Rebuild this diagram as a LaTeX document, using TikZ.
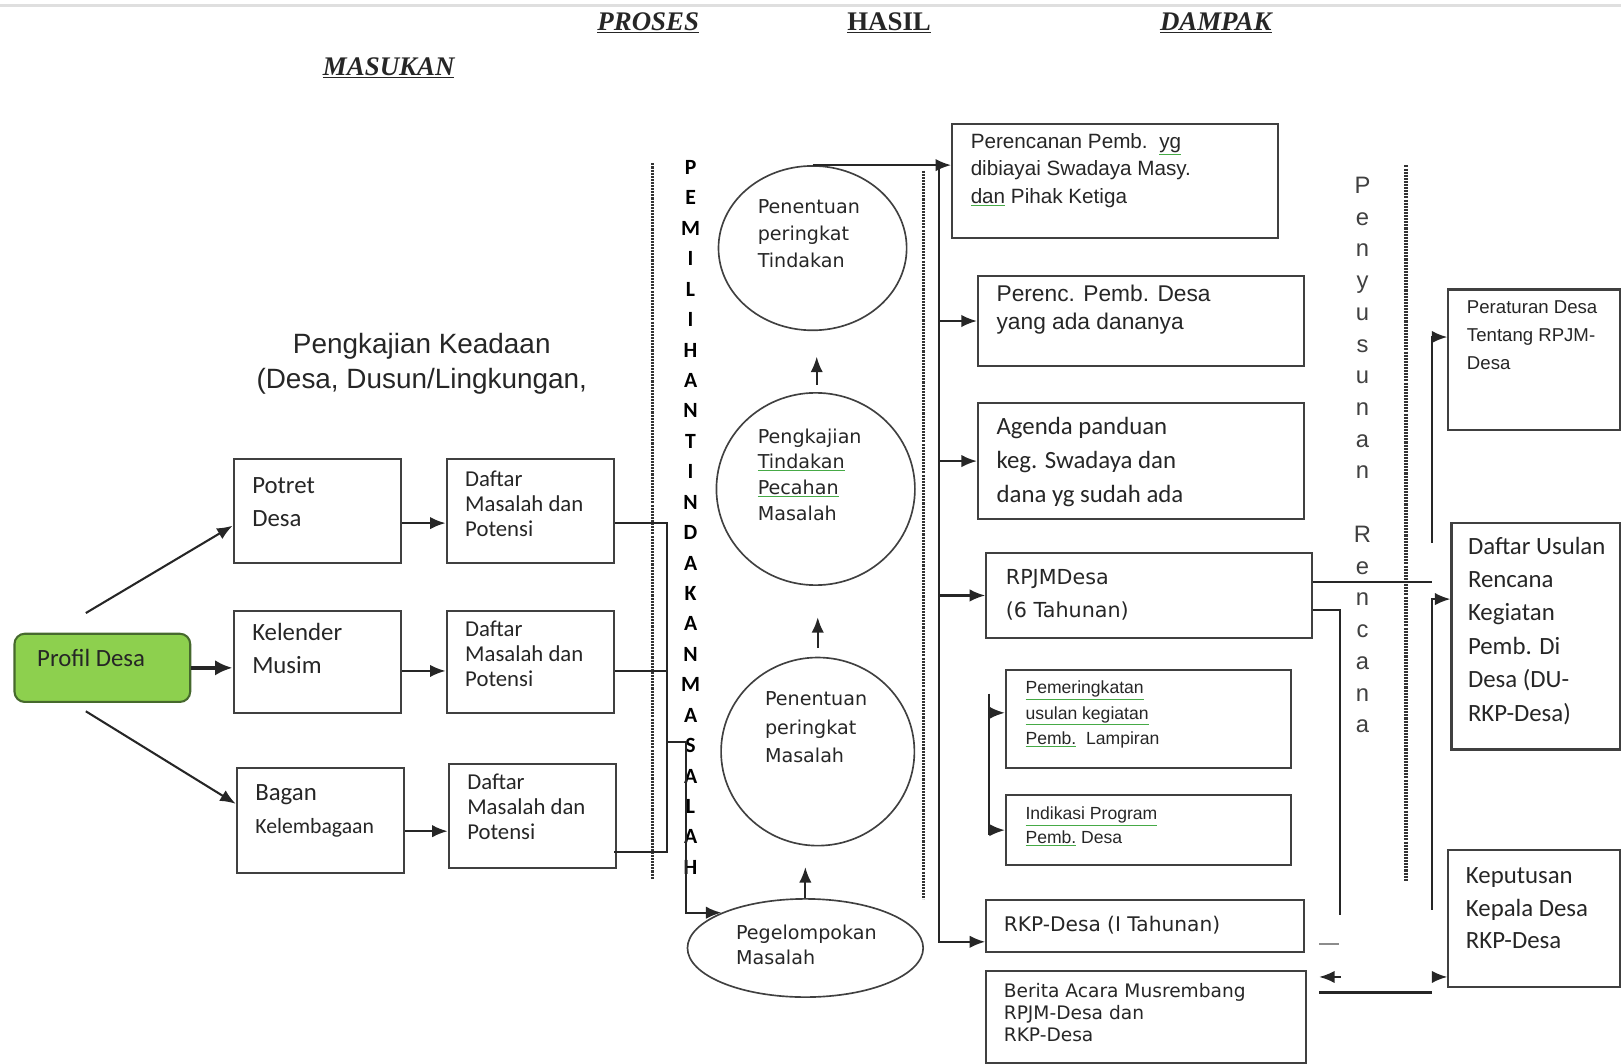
\documentclass[tikz,border=0pt]{standalone}
\usepackage{fontspec}
\setmainfont{Liberation Sans}
\newfontfamily\fCal{Carlito}
\newfontfamily\fDV{DejaVu Sans}
\newfontfamily\fTm{Liberation Serif}
\usetikzlibrary{arrows.meta,calc,shapes.geometric}
\definecolor{txt}{gray}{0.15}
\definecolor{bc}{gray}{0.25}
\definecolor{lc}{gray}{0.15}
\definecolor{sqc}{RGB}{70,170,70}
\definecolor{pfill}{RGB}{141,208,78}
\definecolor{pdraw}{RGB}{70,105,45}
\newcommand{\fs}[2]{\fontsize{#1pt}{#2pt}\selectfont}
\newcommand{\bx}[4]{\parbox[t][#2pt][t]{#1pt}{\vspace*{#3pt}\noindent\begin{tabular}[t]{@{}l@{}}#4\end{tabular}}}
\newcommand{\et}[3]{\raisebox{#2pt}[0pt][0pt]{\parbox{#1pt}{\raggedright #3}}}
\newcommand{\sq}[1]{{\color{sqc}\underline{\color{txt}#1}}}
\tikzset{
  box/.style={draw=bc, line width=2pt, anchor=north west, inner ysep=0pt, text=txt},
  ell/.style={ellipse, draw=bc, line width=1.6pt, inner sep=0pt, text=txt},
  conn/.style={draw=lc, line width=2pt},
  arr/.style={-{Latex[length=15pt,width=12pt]}},
  dotl/.style={draw=black!80, line width=3pt, dash pattern=on 2pt off 1pt},
  hdr/.style={font=\fTm\bfseries\fs{26}{30}, text=txt, inner sep=0pt},
}
\begin{document}
\begin{tikzpicture}[x=1pt,y=-1pt]
\useasboundingbox (0,0) rectangle (1568,1029);
\draw[gray!25, line width=3pt] (0,5) -- (1568,5);

% headers
\node[hdr] (hproses) at (627,22) {\underline{\itshape PROSES}};
\node[hdr] (hhasil) at (860,22) {\underline{HASIL}};
\node[hdr] (hdampak) at (1176,22) {\underline{\itshape DAMPAK}};
\node[hdr] (hmasukan) at (376,66) {\underline{\itshape MASUKAN}};

\node[font=\fs{27}{34}, text=txt, align=center] (pk) at (408,352) {Pengkajian Keadaan\\(Desa, Dusun/Lingkungan,};

% left column
\node[box, rounded corners=10pt, fill=pfill, draw=pdraw, inner xsep=22pt, font=\fCal\fs{24}{30}] (profil) at (13,612) {\bx{126}{66}{10.9}{Profil Desa}};
\node[box, inner xsep=18pt, font=\fCal\fs{24}{32}] (potret) at (225,443) {\bx{126}{101}{10.5}{Potret\\Desa}};
\node[box, inner xsep=18pt, font=\fCal\fs{24}{32}] (kelender) at (225,590) {\bx{126}{99}{6.5}{Kelender\\Musim}};
\node[box, inner xsep=18pt, font=\fCal\fs{24}{32}] (bagan) at (228,742) {\bx{126}{101}{8.5}{Bagan\\{\fs{21}{32}Kelembagaan}}};
\node[box, inner xsep=18pt, font=\fCal\fs{22}{24.5}] (daftar1) at (431,443) {\bx{126}{101}{9.1}{Daftar\\Masalah dan\\Potensi}};
\node[box, inner xsep=18pt, font=\fCal\fs{22}{24.5}] (daftar2) at (431,590) {\bx{126}{99}{7.2}{Daftar\\Masalah dan\\Potensi}};
\node[box, inner xsep=18pt, font=\fCal\fs{22}{24.5}] (daftar3) at (433,738) {\bx{126}{101}{7.2}{Daftar\\Masalah dan\\Potensi}};

% dotted separators
\draw[dotl] (631,158) -- (631,850);
\draw[dotl] (893,165) -- (893,870);
\draw[dotl] (1360,160) -- (1360,852);

% vertical labels
\node[font=\fCal\bfseries\fs{21}{29.43}, align=center, anchor=north, inner sep=0pt, text=black] (pemilihan) at (668,155)
 {P\\E\\M\\I\\L\\I\\H\\A\\N\\T\\I\\N\\D\\A\\K\\A\\N\\M\\A\\S\\A\\L\\A\\H};
\node[font=\fs{23}{30.7}, align=center, anchor=north, inner sep=0pt, text=black!75] (penyusunan) at (1318,171)
 {P\\e\\n\\y\\u\\s\\u\\n\\a\\n\\[30.7pt]R\\e\\n\\c\\a\\n\\a};

% ellipses
\node[ell, minimum width=182pt, minimum height=159pt, font=\fDV\fs{18.5}{26}] (e1) at (786,240) {\et{106}{9.5}{Penentuan\\peringkat\\Tindakan}};
\node[ell, minimum width=192pt, minimum height=186pt, font=\fDV\fs{18.5}{25}] (e2) at (789,473) {\et{112}{9.5}{Pengkajian\\\sq{Tindakan}\\\sq{Pecahan}\\Masalah}};
\node[ell, minimum width=187pt, minimum height=182pt, font=\fDV\fs{18.5}{27.5}] (e3) at (791,727) {\et{102}{19}{Penentuan\\peringkat\\Masalah}};
\node[ell, minimum width=228pt, minimum height=95pt, font=\fDV\fs{18.5}{24}] (e4) at (779,917) {\et{134}{-1.5}{Pegelompokan\\Masalah}};

% middle-right boxes
\node[box, inner xsep=18pt, font=\fs{20}{27}] (b1) at (920,119) {\bx{279}{110}{4.3}{Perencanan Pemb.\ \ \sq{yg}\\dibiayai Swadaya Masy.\\\sq{dan} Pihak Ketiga}};
\node[box, inner xsep=18pt, font=\fs{22}{27}] (b2) at (945,266) {\bx{279}{87}{6}{Perenc. Pemb. Desa\\yang ada dananya}};
\node[box, inner xsep=18pt, font=\fCal\fs{24}{33}] (b3) at (945,389) {\bx{279}{112}{6.8}{Agenda panduan\\keg. Swadaya dan\\dana yg sudah ada}};
\node[box, inner xsep=19pt, font=\fDV\fs{20}{32}] (b4) at (953,534) {\bx{277}{82}{7.9}{RPJMDesa\\(6 Tahunan)}};
\node[box, inner xsep=19pt, font=\fs{17}{24.5}] (b5) at (972,647) {\bx{238}{95}{6}{\sq{Pemeringkatan}\\\sq{usulan kegiatan}\\\sq{Pemb.}\ \ Lampiran}};
\node[box, inner xsep=19pt, font=\fs{17}{23}] (b6) at (972,768) {\bx{238}{68}{8}{\sq{Indikasi Program}\\\sq{Pemb.} Desa}};
\node[box, inner xsep=17pt, font=\fDV\fs{19.5}{24}] (b7) at (953,870) {\bx{273}{50}{13.2}{RKP-Desa (I Tahunan)}};
\node[box, inner xsep=17pt, font=\fDV\fs{18}{21.5}] (b8) at (953,938) {\bx{275}{89}{10.5}{Berita Acara Musrembang\\RPJM-Desa dan\\RKP-Desa}};

% right boxes
\node[box, inner xsep=18pt, font=\fs{18}{27}] (r1) at (1400,279) {\bx{130}{136}{4.6}{Peraturan Desa\\Tentang RPJM-\\Desa}};
\node[box, inner xsep=16pt, font=\fCal\fs{24}{32.4}] (r2) at (1403,505) {\bx{131}{219}{7.2}{Daftar Usulan\\Rencana\\Kegiatan\\Pemb. Di\\Desa (DU-\\RKP-Desa)}};
\node[box, inner xsep=17pt, font=\fCal\fs{24}{31.5}] (r3) at (1400,821) {\bx{132}{133}{10.9}{Keputusan\\Kepala Desa\\RKP-Desa}};

% --- connectors: left
\coordinate (pa) at (83,593);
\coordinate (pb) at (83,688);
\draw[conn, arr] (pa) -- ($(potret.west)+(0,14)$);
\draw[conn, arr] (pb) -- ($(bagan.west)+(0,-16)$);
\draw[draw=lc, line width=4.5pt, -{Latex[length=17pt,width=15pt]}] (profil.east) -- (kelender.west |- profil.east);
\draw[conn, arr] ($(potret.east)+(0,11.5)$) -- ($(daftar1.west)+(0,11.5)$);
\draw[conn, arr] ($(kelender.east)+(0,8.5)$) -- ($(daftar2.west)+(0,8.5)$);
\draw[conn, arr] ($(bagan.east)+(0,10.5)$) -- ($(daftar3.west)+(0,14.5)$);

\coordinate (lbx) at (645,0);
\coordinate (g1) at ($(daftar1.east)+(0,11.5)$);
\coordinate (g2) at ($(daftar2.east)+(0,8.5)$);
\coordinate (g3) at ($(daftar3.east)+(-3,34.5)$);
\draw[conn] (g1) -- (g1 -| lbx) -- (g3 -| lbx) -- (g3);
\draw[conn] (g2) -- (g2 -| lbx);
\coordinate (lb) at (645,718);
\coordinate (lx) at (664,718);
\draw[conn, arr] (lb) -- (lx) -- (lx |- e4.north west) -- (e4.north west);

% --- ellipse arrows
\coordinate (u1a) at (790,372);
\coordinate (u1b) at (790,345);
\coordinate (u2a) at (791,627);
\coordinate (u2b) at (791,597);
\draw[conn, arr] (u1a) -- (u1b);
\draw[conn, arr] (u2a) -- (u2b);
\draw[conn, arr] (e4.north) -- ++(0,-30);

% --- result bus
\coordinate (busx) at (908,0);
\draw[conn, arr] (e1.north) -- (b1.west |- e1.north);
\draw[conn, arr] (busx |- e1.north) |- ($(b7.west)+(0,15)$);
\draw[conn, arr] (busx |- b2.west) -- (b2.west);
\draw[conn, arr] (busx |- b3.west) -- (b3.west);
\draw[conn, arr] (busx |- b4.west) -- (b4.west);

% small bracket to b5/b6
\coordinate (brt) at (957,671);
\coordinate (brb) at (957,808);
\coordinate (p5) at ($(b5.west)+(0,-6)$);
\draw[conn] (brt) -- (brb);
\draw[conn, arr] (brt |- p5) -- (p5);
\draw[conn, arr] (brt |- b6.west) -- (b6.west);

% --- right side
\coordinate (q1) at (1385,563);
\draw[conn] (q1 -| b4.east) -- (q1);
\coordinate (q2t) at (1296,590);
\coordinate (q2) at (1296,885);
\draw[conn] (q2t -| b4.east) -- (q2t) -- (q2);
\coordinate (d1) at (1276,913);
\coordinate (d2) at (1295,913);
\draw[draw=black!45, line width=2pt] (d1) -- (d2);
\coordinate (la) at (1297,945);
\coordinate (lbb) at (1276,945);
\draw[conn, arr] (la) -- (lbb);
\coordinate (m1) at (1276,960);
\coordinate (m2) at (1385,960);
\draw[conn] (m1) -- (m2);
\coordinate (v1b) at (1385,525);
\draw[conn, arr] (v1b) |- ($(r1.west)+(0,-22)$);
\coordinate (v2b) at (1385,880);
\draw[conn, arr] (v2b) |- ($(r2.west)+(0,-36)$);
\coordinate (v3) at (1385,945);
\draw[conn, arr] (v3) -- (v3 -| r3.west);
\end{tikzpicture}
\end{document}
